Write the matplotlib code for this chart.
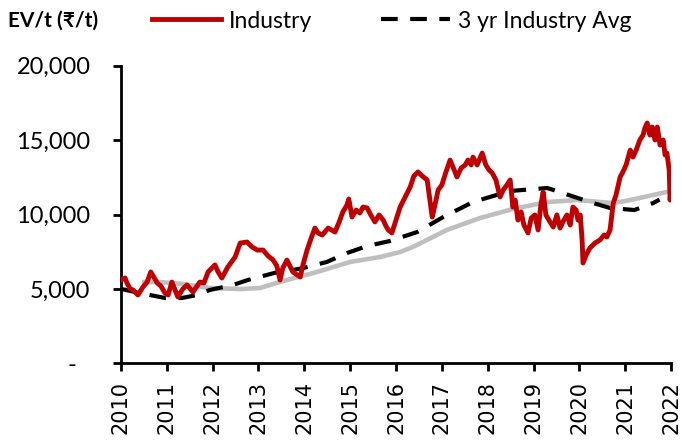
import matplotlib
matplotlib.use("Agg")
import matplotlib.pyplot as plt
import matplotlib.transforms as mtransforms
import numpy as np

# Industry EV/t (weekly-ish readings), decimal years
ind_year = [2010.00, 2010.09, 2010.13, 2010.20, 2010.26, 2010.37, 2010.48, 2010.57, 2010.65, 2010.79,
            2010.87, 2010.96, 2011.03, 2011.11, 2011.24, 2011.35, 2011.44, 2011.57, 2011.72, 2011.81,
            2011.90, 2012.05, 2012.12, 2012.20, 2012.33, 2012.49, 2012.60, 2012.75, 2012.86, 2012.97,
            2013.10, 2013.21, 2013.32, 2013.40, 2013.47, 2013.53, 2013.62, 2013.75, 2013.91, 2013.97,
            2014.06, 2014.15, 2014.23, 2014.30, 2014.39, 2014.52, 2014.67, 2014.76, 2014.84, 2014.93,
            2014.97, 2015.04, 2015.13, 2015.21, 2015.28, 2015.37, 2015.45, 2015.54, 2015.63, 2015.72,
            2015.78, 2015.83, 2015.91, 2016.00, 2016.09, 2016.20, 2016.31, 2016.39, 2016.48, 2016.57,
            2016.68, 2016.74, 2016.79, 2016.85, 2016.92, 2017.00, 2017.09, 2017.18, 2017.27, 2017.33,
            2017.42, 2017.51, 2017.57, 2017.64, 2017.68, 2017.77, 2017.88, 2017.96, 2018.03, 2018.10,
            2018.18, 2018.27, 2018.34, 2018.42, 2018.49, 2018.55, 2018.60, 2018.66, 2018.73, 2018.79,
            2018.88, 2018.95, 2019.03, 2019.10, 2019.16, 2019.21, 2019.27, 2019.36, 2019.43, 2019.51,
            2019.58, 2019.64, 2019.73, 2019.80, 2019.86, 2019.93, 2019.97, 2020.02, 2020.06, 2020.08,
            2020.15, 2020.23, 2020.34, 2020.45, 2020.54, 2020.60, 2020.67, 2020.74, 2020.80, 2020.89,
            2020.95, 2021.02, 2021.11, 2021.17, 2021.24, 2021.32, 2021.39, 2021.43, 2021.48, 2021.54,
            2021.59, 2021.65, 2021.70, 2021.76, 2021.83, 2021.87, 2021.91, 2021.96, 2021.98, 2022.00]
ind_val = [5600, 5730, 5400, 5000, 4930, 4590, 5130, 5460, 6140, 5400,
           5190, 4720, 4590, 5460, 4460, 5000, 5260, 4790, 5460, 5400,
           6140, 6610, 6140, 5730, 6470, 7140, 8080, 8150, 7820, 7610,
           7610, 7210, 6940, 6540, 5600, 6400, 6940, 6140, 5800, 6610,
           7610, 8420, 9090, 8760, 8620, 9090, 8820, 9500, 10170, 10640,
           11040, 9830, 10300, 10100, 10500, 10440, 9970, 9500, 9970, 9630,
           9230, 8960, 8760, 9630, 10500, 11180, 11850, 12590, 12860, 12590,
           12320, 10970, 9830, 10640, 11650, 11980, 12860, 13660, 12990, 12520,
           13120, 13330, 13660, 13330, 13860, 13330, 14130, 13330, 12990, 12790,
           12320, 11180, 11650, 11980, 12320, 10500, 10970, 9630, 10170, 9290,
           8760, 9760, 9970, 8960, 10640, 11510, 9970, 9500, 9160, 9970,
           9090, 9500, 9970, 9290, 10500, 10300, 9630, 9970, 8290, 6740,
           7280, 7750, 8080, 8290, 8620, 8490, 8960, 10770, 11310, 12520,
           12860, 13330, 14330, 13860, 14330, 15010, 15340, 15810, 16150, 15340,
           15880, 15010, 15880, 14670, 15010, 14000, 14130, 12990, 10970, 11650]

# 3 yr industry average
avg3_year = [2010.00, 2010.31, 2010.63, 2010.96, 2011.33, 2011.66, 2011.94, 2012.44, 2012.77, 2013.10,
             2013.43, 2013.75, 2013.97, 2014.49, 2014.93, 2015.37, 2015.87, 2016.46, 2017.03, 2017.68,
             2018.49, 2019.30, 2019.64, 2020.30, 2020.67, 2021.20, 2021.61, 2021.75]
avg3_val = [5000, 4790, 4590, 4390, 4390, 4590, 4930, 5260, 5600, 5870,
            6140, 6270, 6400, 6810, 7410, 7880, 8220, 8820, 9830, 10840,
            11580, 11780, 11440, 10770, 10440, 10300, 10770, 11000]

# longer-run average (grey, not in legend)
long_year = [2010.46, 2010.85, 2011.35, 2011.94, 2012.60, 2013.03, 2013.62, 2014.28, 2015.00, 2015.65,
             2016.09, 2016.37, 2017.11, 2017.83, 2018.55, 2019.30, 2019.95, 2020.74, 2021.11, 2022.00]
long_val = [5460, 5460, 5330, 5060, 4990, 5060, 5600, 6140, 6810, 7140,
            7480, 7820, 8960, 9760, 10370, 10840, 10970, 10770, 10970, 11580]

year_ticks = list(range(2010, 2023))
y_ticks = [0, 5000, 10000, 15000, 20000]
y_labels = ["-", "5,000", "10,000", "15,000", "20,000"]

fig = plt.figure(figsize=(6.82, 4.41), dpi=100)
ax = fig.add_axes([0.1774, 0.1762, 0.8065, 0.6748])

ax.plot(long_year, long_val, color="#BFBFBF", lw=3.3, solid_capstyle="butt", zorder=1)
ax.plot(avg3_year, avg3_val, color="black", lw=3, linestyle=(0, (4, 3)), label="3 yr Industry Avg", zorder=2)
ax.plot(ind_year, ind_val, color="#C00000", lw=3.5, label="Industry", zorder=3)

ax.set_xlim(2010, 2022)
ax.set_ylim(0, 20000)
ax.set_xticks(year_ticks)
ax.set_xticklabels([str(y) for y in year_ticks], rotation=90, fontsize=15, family="DejaVu Sans")
ax.set_yticks(y_ticks)
ax.set_yticklabels(y_labels, fontsize=17, family=["Lato", "DejaVu Sans"])
for sp in ["top", "right"]:
    ax.spines[sp].set_visible(False)
for sp in ["left", "bottom"]:
    ax.spines[sp].set_linewidth(2)
ax.tick_params(axis="y", length=6, width=2, pad=16)
ax.tick_params(axis="x", length=6, width=2, pad=7)

# zero label sits further left
lbl0 = ax.get_yticklabels()[0]
lbl0.set_transform(lbl0.get_transform() + mtransforms.ScaledTranslation(-10 / 72, 0, fig.dpi_scale_trans))

fig.text(8 / 682, 1 - 21 / 441, "EV/t (₹/t)", fontsize=15, fontweight="bold",
         family=["Lato", "DejaVu Sans"], va="center", ha="left")

handles, labels = ax.get_legend_handles_labels()
order = [1, 0]
leg = fig.legend([handles[i] for i in order], [labels[i] for i in order], loc="center left",
                 bbox_to_anchor=(152 / 682, 1 - 21 / 441), ncol=2, frameon=False,
                 borderpad=0, borderaxespad=0, handlelength=3.0, handletextpad=0.35,
                 columnspacing=3.0, prop={"family": ["Lato", "DejaVu Sans"], "size": 16.5})

fig.savefig("out.png", dpi=100)
